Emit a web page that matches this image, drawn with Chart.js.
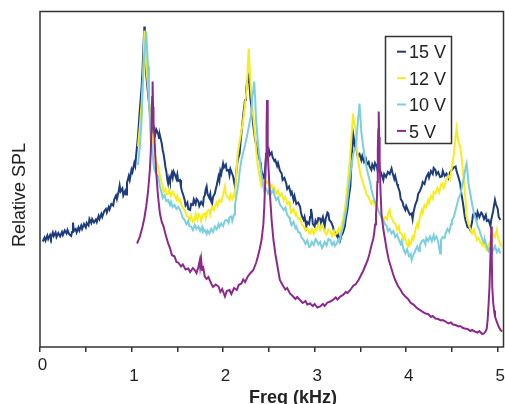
<!DOCTYPE html>
<html><head><meta charset="utf-8">
<script src="https://cdn.jsdelivr.net/npm/chart.js@4.4.1/dist/chart.umd.min.js"></script>
<style>html,body{margin:0;padding:0;background:#fff;}#wrap{position:relative;width:505px;height:404px;}</style>
</head><body><div id="wrap"><canvas id="c"></canvas></div>
<script>
const seriesLabels = ['15 V', '12 V', '10 V', '5 V'];
const seriesColors = ['#1d3c7c', '#f7ec1c', '#7ccfdc', '#8c2a8c'];
const xTitle = 'Freq (kHz)';
const yTitle = 'Relative SPL';

// [frequency kHz, relative SPL]
const spl15V = [[0.03,21.1],[0.05,21.9],[0.06,21.3],[0.08,22.3],[0.09,21.6],[0.11,22.4],[0.12,21.8],[0.14,22.9],[0.15,22.2],[0.17,22.9],
[0.18,22.0],[0.20,22.8],[0.22,22.1],[0.24,23.0],[0.25,22.4],[0.27,23.3],[0.29,22.7],[0.30,23.4],[0.32,22.5],[0.34,22.2],
[0.35,23.0],[0.36,24.9],[0.37,23.2],[0.39,23.6],[0.40,22.9],[0.42,23.9],[0.43,23.3],[0.45,24.3],[0.46,23.6],[0.48,24.6],
[0.50,23.9],[0.51,24.8],[0.53,24.3],[0.54,25.6],[0.56,24.8],[0.57,25.6],[0.59,24.9],[0.61,25.5],[0.62,25.0],[0.64,26.2],
[0.65,25.6],[0.67,26.6],[0.68,26.0],[0.70,27.1],[0.72,27.6],[0.73,26.9],[0.75,28.0],[0.76,27.5],[0.78,28.6],[0.80,28.3],
[0.81,29.5],[0.83,30.3],[0.84,29.6],[0.86,31.2],[0.87,32.3],[0.88,31.1],[0.90,31.7],[0.91,30.3],[0.93,31.2],[0.94,30.5],
[0.95,32.8],[0.97,34.2],[0.98,33.4],[1.00,35.5],[1.01,35.0],[1.03,36.8],[1.04,36.2],[1.05,38.3],[1.07,42.1],[1.09,47.4],
[1.11,52.0],[1.12,55.4],[1.13,60.0],[1.14,64.1],[1.145,60.5],[1.15,57.4],[1.16,54.5],[1.18,50.7],[1.20,47.0],[1.21,45.4],
[1.22,43.6],[1.23,43.1],[1.24,44.0],[1.25,43.4],[1.26,42.6],[1.27,43.5],[1.29,42.7],[1.30,41.8],[1.31,42.3],[1.33,40.7],
[1.34,39.4],[1.35,38.6],[1.36,37.4],[1.37,36.0],[1.38,35.1],[1.39,33.6],[1.40,32.7],[1.41,33.8],[1.42,33.0],[1.43,34.1],
[1.44,34.8],[1.45,33.9],[1.46,35.1],[1.47,34.7],[1.49,33.6],[1.50,34.5],[1.51,33.2],[1.53,33.4],[1.54,32.0],[1.55,31.2],
[1.57,30.1],[1.58,29.4],[1.59,28.3],[1.61,28.9],[1.62,27.6],[1.64,27.4],[1.65,28.6],[1.67,28.4],[1.68,29.5],[1.70,28.6],
[1.71,29.6],[1.73,29.1],[1.74,28.2],[1.76,29.0],[1.78,28.4],[1.79,30.0],[1.80,30.3],[1.81,31.5],[1.82,32.1],[1.83,30.6],
[1.85,29.8],[1.86,30.6],[1.87,29.1],[1.88,28.7],[1.89,30.0],[1.91,30.7],[1.92,31.6],[1.93,32.3],[1.95,34.1],[1.96,33.3],
[1.97,35.2],[1.98,34.6],[2.00,36.7],[2.01,35.9],[2.03,36.5],[2.04,35.3],[2.06,35.4],[2.07,34.4],[2.08,35.6],[2.10,34.6],
[2.11,34.1],[2.12,33.0],[2.13,32.1],[2.14,34.0],[2.15,36.1],[2.16,37.4],[2.18,38.7],[2.19,40.8],[2.21,44.5],[2.22,46.5],
[2.24,49.4],[2.25,51.0],[2.26,52.7],[2.27,53.5],[2.28,54.2],[2.29,52.0],[2.30,49.5],[2.31,48.1],[2.32,46.0],[2.33,44.3],
[2.35,41.4],[2.36,40.6],[2.38,38.8],[2.40,37.4],[2.41,36.8],[2.42,35.2],[2.44,34.1],[2.45,33.6],[2.46,36.0],[2.47,38.6],
[2.49,38.7],[2.50,39.4],[2.51,38.4],[2.53,38.9],[2.54,38.0],[2.56,37.2],[2.57,37.4],[2.59,36.2],[2.60,36.8],[2.62,35.3],
[2.64,34.7],[2.65,33.4],[2.67,33.8],[2.69,32.7],[2.70,31.6],[2.72,32.1],[2.74,30.6],[2.75,31.0],[2.77,29.4],[2.78,30.2],
[2.80,28.6],[2.82,28.9],[2.84,28.1],[2.85,27.0],[2.86,26.2],[2.88,25.4],[2.89,26.0],[2.91,24.1],[2.92,25.0],[2.94,24.6],
[2.95,26.0],[2.96,27.6],[2.97,26.5],[2.98,24.6],[3.00,24.1],[3.01,25.3],[3.03,24.6],[3.04,25.8],[3.06,25.7],[3.07,24.8],
[3.09,26.0],[3.10,25.0],[3.11,24.2],[3.12,25.6],[3.14,26.9],[3.15,26.7],[3.16,25.4],[3.18,25.0],[3.20,24.1],[3.21,23.2],
[3.23,22.7],[3.25,22.0],[3.26,22.5],[3.28,21.4],[3.29,22.2],[3.31,22.9],[3.33,24.1],[3.34,25.6],[3.36,27.8],[3.37,29.5],
[3.39,32.1],[3.40,36.0],[3.41,39.5],[3.42,42.7],[3.43,41.5],[3.44,40.0],[3.46,39.4],[3.47,38.2],[3.49,38.6],[3.51,37.4],
[3.52,38.2],[3.54,37.0],[3.56,37.6],[3.57,36.5],[3.59,37.0],[3.60,36.1],[3.62,35.4],[3.63,36.5],[3.65,35.7],[3.66,36.8],
[3.68,36.1],[3.69,35.0],[3.71,35.6],[3.73,34.6],[3.75,33.4],[3.76,34.6],[3.78,34.0],[3.80,35.0],[3.82,34.6],[3.84,35.7],
[3.85,34.9],[3.87,33.6],[3.88,34.2],[3.90,32.6],[3.91,32.1],[3.93,31.0],[3.94,29.6],[3.96,29.0],[3.97,28.2],[3.99,27.4],
[4.00,28.2],[4.02,27.3],[4.04,26.5],[4.06,26.7],[4.07,25.6],[4.08,27.0],[4.10,28.5],[4.12,29.4],[4.13,30.6],[4.15,31.2],
[4.17,32.1],[4.18,33.0],[4.20,32.6],[4.22,34.0],[4.24,34.7],[4.25,33.9],[4.27,35.2],[4.29,34.6],[4.30,35.8],[4.32,35.4],
[4.33,34.5],[4.35,35.0],[4.37,34.0],[4.39,34.1],[4.40,35.2],[4.42,34.2],[4.44,34.7],[4.46,33.8],[4.48,35.0],[4.50,35.4],
[4.52,35.9],[4.54,36.1],[4.55,35.2],[4.57,34.0],[4.59,32.7],[4.60,31.0],[4.62,28.8],[4.64,26.1],[4.65,25.2],[4.67,24.0],
[4.69,23.8],[4.70,23.4],[4.72,25.0],[4.73,26.5],[4.75,26.7],[4.77,25.8],[4.78,27.0],[4.80,26.0],[4.82,26.9],[4.83,26.7],
[4.85,25.6],[4.87,26.4],[4.88,25.2],[4.90,25.4],[4.92,24.2],[4.93,25.5],[4.95,27.2],[4.97,29.4],[4.98,28.6],[5.00,27.6],
[5.01,26.0],[5.03,25.4]];

const spl12V = [[1.07,40.1],[1.09,44.0],[1.11,48.7],[1.12,52.0],[1.13,56.1],[1.14,63.3],[1.15,60.0],[1.16,56.1],[1.17,54.0],[1.18,52.1],
[1.20,47.0],[1.22,42.7],[1.23,41.0],[1.24,40.1],[1.25,38.6],[1.26,38.1],[1.27,37.0],[1.29,36.1],[1.30,35.0],[1.32,33.6],
[1.34,32.1],[1.35,31.0],[1.37,31.6],[1.38,30.5],[1.40,30.7],[1.41,31.4],[1.43,30.2],[1.45,31.0],[1.47,30.4],[1.49,29.5],
[1.50,30.2],[1.52,29.2],[1.53,29.4],[1.55,28.2],[1.57,27.6],[1.58,27.4],[1.60,26.2],[1.62,26.0],[1.64,25.4],[1.65,26.2],
[1.67,25.0],[1.69,25.4],[1.70,26.6],[1.72,25.5],[1.73,26.6],[1.75,26.1],[1.76,25.2],[1.78,26.5],[1.80,26.7],[1.81,25.8],
[1.83,27.3],[1.85,27.4],[1.86,26.5],[1.88,28.0],[1.90,27.4],[1.91,28.1],[1.93,28.9],[1.94,28.2],[1.96,29.4],[1.98,29.0],
[2.00,30.4],[2.02,32.1],[2.03,30.6],[2.05,30.0],[2.07,29.4],[2.08,30.5],[2.10,29.6],[2.12,30.6],[2.13,30.1],[2.14,33.5],
[2.16,38.7],[2.18,41.0],[2.20,43.2],[2.22,45.4],[2.24,48.6],[2.26,52.1],[2.27,56.0],[2.28,59.7],[2.29,56.0],[2.30,52.6],
[2.31,50.1],[2.33,46.0],[2.35,42.1],[2.36,39.6],[2.38,36.1],[2.40,34.0],[2.42,32.1],[2.44,32.8],[2.45,33.3],[2.47,32.7],
[2.49,33.2],[2.51,32.0],[2.53,32.4],[2.54,31.5],[2.56,31.9],[2.58,30.7],[2.60,31.3],[2.62,30.2],[2.64,30.7],[2.66,29.4],
[2.68,30.0],[2.70,28.6],[2.72,29.0],[2.73,28.1],[2.75,27.0],[2.77,27.6],[2.79,26.4],[2.80,26.7],[2.82,25.6],[2.84,25.8],
[2.86,24.5],[2.88,24.1],[2.90,23.3],[2.92,23.8],[2.94,22.8],[2.95,22.7],[2.97,23.6],[2.99,22.6],[3.01,23.6],[3.02,23.4],
[3.04,24.5],[3.06,23.4],[3.08,24.4],[3.09,24.1],[3.11,23.0],[3.13,22.5],[3.15,23.5],[3.17,23.1],[3.19,22.2],[3.21,23.2],
[3.22,22.5],[3.24,22.7],[3.26,23.6],[3.27,22.9],[3.29,24.1],[3.31,25.6],[3.33,27.5],[3.35,30.7],[3.37,34.5],[3.39,38.7],
[3.41,44.0],[3.42,46.7],[3.43,45.0],[3.45,43.4],[3.46,40.0],[3.48,36.7],[3.50,34.5],[3.53,32.7],[3.55,31.6],[3.57,30.4],
[3.59,30.0],[3.60,29.4],[3.62,28.6],[3.64,29.3],[3.66,28.3],[3.68,28.1],[3.70,27.2],[3.72,26.6],[3.74,26.0],[3.75,25.4],
[3.77,26.0],[3.79,25.5],[3.80,26.6],[3.82,27.4],[3.83,26.2],[3.85,25.5],[3.86,25.0],[3.88,24.7],[3.90,23.5],[3.92,24.1],
[3.93,22.8],[3.95,22.7],[3.97,21.6],[3.98,22.3],[4.00,21.0],[4.02,20.1],[4.03,21.2],[4.05,20.6],[4.07,22.0],[4.08,21.6],
[4.10,23.4],[4.12,24.6],[4.13,24.0],[4.15,26.0],[4.17,27.4],[4.18,26.8],[4.20,28.4],[4.22,28.0],[4.24,29.4],[4.25,28.8],
[4.27,30.2],[4.29,29.6],[4.30,31.0],[4.32,30.7],[4.34,31.8],[4.36,30.9],[4.38,32.5],[4.39,32.7],[4.41,31.8],[4.43,33.0],
[4.44,33.4],[4.46,34.3],[4.48,33.6],[4.50,36.1],[4.52,38.5],[4.54,42.0],[4.55,43.7],[4.56,42.4],[4.57,41.0],[4.59,40.1],
[4.61,37.0],[4.63,33.4],[4.65,29.0],[4.66,26.1],[4.68,24.6],[4.70,23.6],[4.72,22.7],[4.74,23.5],[4.76,22.2],[4.77,21.4],
[4.79,21.8],[4.81,21.0],[4.83,20.4],[4.84,21.2],[4.86,20.1],[4.88,19.4],[4.90,20.4],[4.92,21.2],[4.94,21.4],[4.95,22.6],
[4.97,22.0],[4.99,23.4],[5.00,22.2],[5.02,21.0],[5.04,20.1]];

const spl10V = [[1.07,36.4],[1.09,40.0],[1.11,45.4],[1.12,50.5],[1.13,56.1],[1.15,60.5],[1.16,63.1],[1.17,59.5],[1.18,56.1],[1.19,50.0],
[1.20,45.4],[1.21,41.5],[1.23,38.7],[1.24,36.5],[1.25,35.4],[1.27,34.6],[1.29,34.1],[1.31,32.2],[1.33,30.7],[1.34,29.8],
[1.36,30.3],[1.38,29.2],[1.40,29.4],[1.42,28.4],[1.43,29.0],[1.45,28.0],[1.47,28.4],[1.49,27.6],[1.51,28.0],[1.53,27.4],
[1.55,26.4],[1.56,25.8],[1.58,25.4],[1.60,24.6],[1.62,25.2],[1.63,24.2],[1.65,24.1],[1.67,23.4],[1.69,24.4],[1.71,23.6],
[1.73,24.1],[1.75,23.2],[1.77,24.0],[1.78,23.0],[1.80,23.4],[1.82,22.6],[1.83,23.3],[1.85,22.7],[1.87,23.6],[1.89,23.0],
[1.91,24.1],[1.93,23.5],[1.95,24.6],[1.96,24.0],[1.98,24.7],[2.00,24.2],[2.02,25.3],[2.04,25.4],[2.06,24.8],[2.07,25.9],
[2.09,26.1],[2.10,25.2],[2.12,26.5],[2.13,28.5],[2.15,30.7],[2.17,33.0],[2.18,35.0],[2.20,37.4],[2.22,39.0],[2.24,40.4],
[2.26,42.1],[2.28,44.0],[2.30,45.8],[2.31,47.4],[2.32,50.0],[2.34,53.1],[2.35,50.0],[2.36,45.4],[2.38,41.0],[2.40,37.4],
[2.42,34.5],[2.44,32.1],[2.45,31.2],[2.47,31.7],[2.49,30.7],[2.51,31.6],[2.53,30.8],[2.55,31.4],[2.56,30.4],[2.58,29.4],
[2.60,29.9],[2.62,28.5],[2.64,28.0],[2.66,27.4],[2.68,27.9],[2.70,26.4],[2.72,26.0],[2.73,25.4],[2.75,24.4],[2.77,25.0],
[2.79,23.8],[2.80,24.1],[2.82,23.0],[2.84,22.8],[2.86,21.8],[2.88,21.4],[2.90,20.6],[2.92,21.3],[2.94,20.0],[2.95,20.1],
[2.97,21.0],[2.99,20.4],[3.01,21.6],[3.02,21.4],[3.04,20.5],[3.06,21.0],[3.08,19.8],[3.09,20.1],[3.11,21.0],[3.13,20.3],
[3.15,21.6],[3.17,21.4],[3.19,20.4],[3.21,21.0],[3.22,20.2],[3.24,20.7],[3.26,21.5],[3.27,21.0],[3.29,22.7],[3.31,24.0],
[3.33,26.0],[3.35,28.1],[3.37,31.5],[3.39,34.5],[3.40,36.1],[3.42,38.5],[3.44,39.6],[3.45,40.1],[3.47,44.5],[3.49,48.7],
[3.50,46.0],[3.51,43.0],[3.53,40.1],[3.55,37.8],[3.57,35.6],[3.59,34.1],[3.61,32.6],[3.62,31.5],[3.64,30.1],[3.66,29.0],
[3.68,28.4],[3.69,27.5],[3.71,26.7],[3.73,25.8],[3.75,25.4],[3.77,24.5],[3.79,24.1],[3.80,23.2],[3.82,23.6],[3.84,22.7],
[3.86,23.2],[3.88,22.0],[3.90,22.5],[3.92,21.4],[3.94,20.6],[3.95,21.2],[3.97,19.6],[3.99,18.7],[4.01,19.5],[4.03,18.2],
[4.05,18.6],[4.06,17.4],[4.08,18.5],[4.10,19.3],[4.12,20.1],[4.14,19.2],[4.15,20.4],[4.17,21.2],[4.19,21.4],[4.21,20.5],
[4.22,21.8],[4.24,21.2],[4.26,22.1],[4.28,21.2],[4.30,22.4],[4.31,21.5],[4.33,22.1],[4.35,21.0],[4.37,18.7],[4.38,21.4],
[4.40,22.0],[4.42,21.8],[4.43,22.7],[4.45,23.6],[4.47,23.0],[4.49,24.6],[4.50,25.4],[4.52,26.0],[4.54,27.4],[4.55,28.1],
[4.57,29.6],[4.59,30.4],[4.61,32.1],[4.63,33.8],[4.65,36.0],[4.66,36.7],[4.67,35.0],[4.68,32.8],[4.70,30.7],[4.72,28.6],
[4.74,26.7],[4.76,25.6],[4.78,24.2],[4.80,23.4],[4.81,22.7],[4.83,21.6],[4.85,20.8],[4.86,21.4],[4.88,20.1],[4.90,19.2],
[4.92,20.0],[4.94,19.0],[4.95,19.4],[4.97,20.2],[4.99,19.0],[5.01,19.6],[5.03,18.7]];

const spl5V = [[1.06,20.7],[1.09,22.0],[1.12,24.1],[1.14,25.8],[1.16,28.1],[1.18,31.0],[1.20,35.4],[1.21,39.0],[1.22,45.4],[1.225,50.0],
[1.23,53.1],[1.235,48.0],[1.24,45.0],[1.25,42.1],[1.26,38.0],[1.27,34.7],[1.29,30.0],[1.31,26.7],[1.33,25.0],[1.35,24.1],
[1.37,22.6],[1.40,20.7],[1.42,19.8],[1.44,18.4],[1.47,18.1],[1.49,17.0],[1.51,16.9],[1.54,16.1],[1.56,16.5],[1.59,15.5],
[1.62,15.7],[1.64,15.0],[1.67,15.8],[1.69,15.4],[1.71,14.8],[1.73,16.0],[1.745,17.3],[1.75,16.1],[1.76,17.5],[1.77,15.4],
[1.78,16.2],[1.80,14.1],[1.82,13.6],[1.84,14.0],[1.87,12.7],[1.89,12.0],[1.92,12.5],[1.95,12.1],[1.97,11.0],[1.99,11.6],
[2.02,10.1],[2.04,11.2],[2.07,11.4],[2.09,10.6],[2.12,11.8],[2.15,11.4],[2.17,12.4],[2.20,12.7],[2.22,13.5],[2.24,13.0],
[2.27,14.1],[2.30,14.8],[2.33,15.4],[2.36,16.8],[2.38,18.1],[2.40,19.6],[2.42,21.4],[2.44,24.6],[2.45,28.1],[2.46,33.0],
[2.47,38.7],[2.475,44.0],[2.48,49.4],[2.485,44.0],[2.49,38.7],[2.51,31.0],[2.53,25.4],[2.55,21.4],[2.57,18.7],[2.60,15.5],
[2.62,13.4],[2.65,12.4],[2.68,11.5],[2.70,11.8],[2.73,10.7],[2.76,10.2],[2.79,9.6],[2.81,10.0],[2.84,9.4],[2.87,8.8],
[2.90,9.2],[2.92,8.5],[2.95,8.7],[2.98,8.2],[3.00,8.6],[3.03,7.9],[3.06,8.1],[3.09,8.6],[3.11,8.2],[3.14,8.9],
[3.17,9.1],[3.20,9.4],[3.23,9.9],[3.25,9.5],[3.28,10.1],[3.31,10.4],[3.34,11.0],[3.36,10.8],[3.39,11.4],[3.42,12.2],
[3.45,12.6],[3.48,13.4],[3.51,14.5],[3.53,15.2],[3.55,16.1],[3.58,17.4],[3.60,18.7],[3.62,20.3],[3.64,21.6],[3.65,22.7],
[3.66,24.5],[3.67,26.5],[3.68,29.4],[3.685,33.0],[3.69,39.4],[3.695,43.5],[3.70,47.1],[3.705,42.0],[3.71,37.4],[3.72,31.0],
[3.73,26.7],[3.75,23.6],[3.77,21.4],[3.79,19.2],[3.81,17.4],[3.84,15.6],[3.86,14.4],[3.88,13.4],[3.91,12.2],[3.94,11.4],
[3.96,10.7],[3.99,10.1],[4.02,9.6],[4.05,8.8],[4.08,8.5],[4.10,8.1],[4.13,7.6],[4.16,7.3],[4.18,7.0],[4.21,6.7],
[4.24,6.6],[4.27,6.0],[4.29,6.2],[4.32,5.7],[4.35,5.6],[4.38,5.3],[4.40,5.4],[4.43,5.1],[4.46,4.7],[4.49,4.9],
[4.51,4.5],[4.54,4.4],[4.57,4.1],[4.59,4.2],[4.62,3.8],[4.64,3.7],[4.67,3.6],[4.70,3.2],[4.72,3.4],[4.75,3.1],
[4.78,2.9],[4.80,3.2],[4.83,2.6],[4.85,2.7],[4.87,3.2],[4.88,3.7],[4.89,5.5],[4.90,8.5],[4.91,12.1],[4.92,18.0],
[4.93,24.1],[4.935,18.0],[4.94,12.1],[4.95,9.0],[4.96,7.3],[4.97,6.1],[4.99,5.0],[5.01,4.1],[5.03,3.4],[5.05,3.1]];

const FONT = "'Liberation Sans', Arial, sans-serif";

function mk(i, pts, order) {
  return {
    label: seriesLabels[i],
    data: pts.map(p => ({x: p[0], y: p[1]})),
    borderColor: seriesColors[i],
    backgroundColor: seriesColors[i],
    borderWidth: 2,
    pointRadius: 0,
    tension: 0,
    fill: false,
    order: order
  };
}

const framePlugin = {
  id: 'frame',
  afterDatasetsDraw(chart) {
    const {ctx, chartArea: a} = chart;
    ctx.save();
    ctx.strokeStyle = '#333';
    ctx.lineWidth = 1.5;
    ctx.strokeRect(a.left, a.top, a.right - a.left, a.bottom - a.top);
    ctx.restore();
  }
};

const axisTitlesPlugin = {
  id: 'axisTitles',
  afterDraw(chart) {
    const ctx = chart.ctx;
    ctx.save();
    ctx.fillStyle = '#222';
    ctx.textAlign = 'center';
    ctx.textBaseline = 'alphabetic';
    ctx.font = 'bold 18px ' + FONT;
    ctx.fillText(xTitle, 293, 403);
    ctx.translate(25, 195);
    ctx.rotate(-Math.PI / 2);
    ctx.font = '18px ' + FONT;
    ctx.fillText(yTitle, 0, 0);
    ctx.restore();
  }
};

const boxLegendPlugin = {
  id: 'boxLegend',
  afterDraw(chart) {
    const ctx = chart.ctx;
    ctx.save();
    ctx.fillStyle = '#fff';
    ctx.fillRect(385.5, 36.5, 66, 107);
    ctx.strokeStyle = '#333';
    ctx.lineWidth = 1.5;
    ctx.strokeRect(385.5, 36.5, 66, 107);
    ctx.font = '18px ' + FONT;
    ctx.textAlign = 'left';
    ctx.textBaseline = 'alphabetic';
    chart.data.datasets.forEach((ds, i) => {
      const y = 51.7 + i * 26.4;
      ctx.strokeStyle = ds.borderColor;
      ctx.lineWidth = 2;
      ctx.beginPath();
      ctx.moveTo(397, y);
      ctx.lineTo(406, y);
      ctx.stroke();
      ctx.fillStyle = '#222';
      ctx.fillText(ds.label, 409, y + 6.6);
    });
    ctx.restore();
  }
};

new Chart(document.getElementById('c'), {
  type: 'line',
  data: {
    datasets: [
      mk(0, spl15V, 3),
      mk(1, spl12V, 2),
      mk(2, spl10V, 1),
      mk(3, spl5V, 0)
    ]
  },
  options: {
    responsive: true,
    maintainAspectRatio: false,
    animation: false,
    layout: {padding: {top: 11.5, right: 1.5, left: 0, bottom: 0}},
    plugins: {legend: {display: false}, tooltip: {enabled: false}},
    scales: {
      x: {
        type: 'linear', min: 0, max: 5.063,
        afterFit: s => { s.height = 57; s.paddingLeft = 0; s.paddingRight = 0; },
        border: {display: false},
        grid: {drawOnChartArea: false, drawTicks: true, tickLength: 5, color: '#333', lineWidth: 1.5},
        ticks: {
          stepSize: 0.5, includeBounds: false, autoSkip: false, maxRotation: 0, minRotation: 0,
          padding: 7.5, labelOffset: 2.5, color: '#222',
          font: {family: FONT, size: 17, lineHeight: '11px'},
          callback: v => {
            if (Math.abs(v - Math.round(v)) > 1e-6) return '';
            const n = Math.round(v);
            return n === 0 ? '0' : ['', String(n)];
          }
        },
        title: {display: false, text: xTitle}
      },
      y: {
        min: 0, max: 67.1,
        afterFit: s => { s.width = 40; },
        ticks: {display: false},
        grid: {display: false},
        border: {display: false},
        title: {display: false, text: yTitle}
      }
    }
  },
  plugins: [framePlugin, axisTitlesPlugin, boxLegendPlugin]
});
</script>
</body></html>
